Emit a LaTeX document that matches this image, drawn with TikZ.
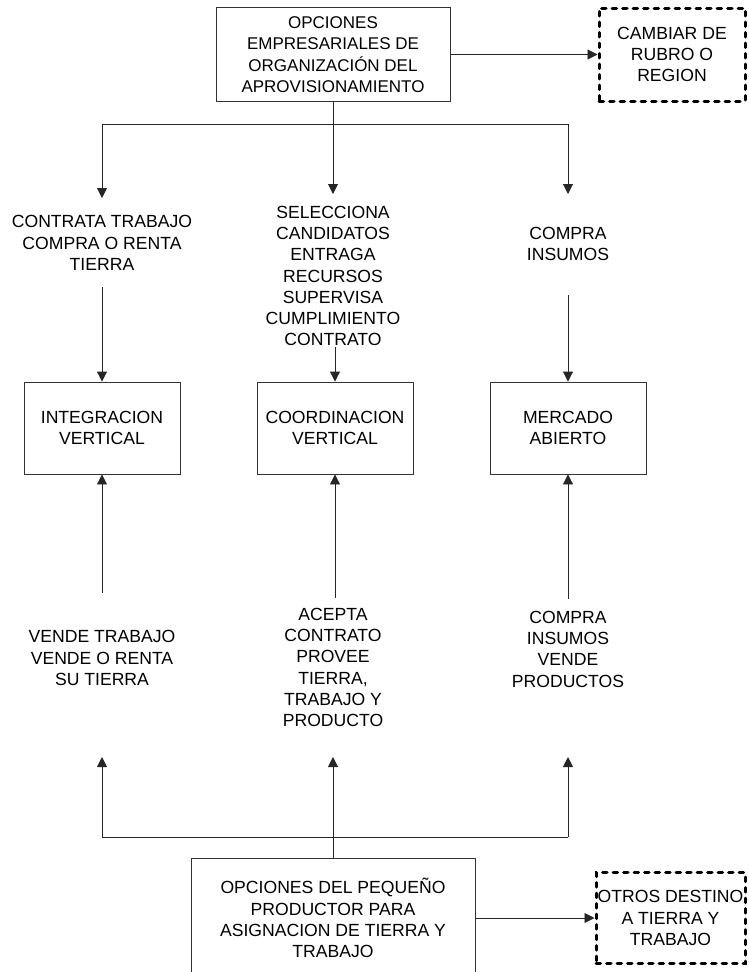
\documentclass[tikz,border=0pt]{standalone}
\usepackage{fontspec}
\setmainfont{Liberation Sans}
\usetikzlibrary{arrows.meta}
\begin{document}
\begin{tikzpicture}[x=1pt, y=-1pt,
  txt/.style={align=center, inner sep=0pt, font=\fontsize{17.6}{21.3}\selectfont},
  box/.style={txt, draw=black!80, line width=0.9pt},
  dbox/.style={txt, draw=black, line width=3pt, line cap=round,
    dash pattern=on 4.5pt off 6pt},
  link/.style={draw=black!85, line width=0.9pt},
  arr/.style={link, -{Triangle[length=10pt, width=10pt]}}]
\useasboundingbox (0,0) rectangle (748,972);

% firm-side options
\node[box, minimum width=234pt, minimum height=94pt,
  font=\fontsize{17}{21.3}\selectfont] (top) at (333,54.5)
  {OPCIONES\\EMPRESARIALES DE\\ORGANIZACIÓN DEL\\APROVISIONAMIENTO};
\node[dbox, minimum width=146pt, minimum height=93pt] (alt1) at (672,54.5)
  {CAMBIAR DE\\RUBRO O\\REGION};
\draw[arr] (top) -- (alt1);

% branching to the three strategies
\coordinate (brM) at (333,124);
\coordinate (brL) at (102,124);
\coordinate (brR) at (568,124);
\coordinate (inL) at (102,198);
\coordinate (inM) at (333,194);
\coordinate (inR) at (568,194);
\draw[link] (top.south) -- (brM);
\draw[link] (brL) -- (brR);
\draw[arr] (brL) -- (inL);
\draw[arr] (brM) -- (inM);
\draw[arr] (brR) -- (inR);

\node[txt] (t1) at (102,243) {CONTRATA TRABAJO\\COMPRA O RENTA\\TIERRA};
\node[txt] (t2) at (333,276) {SELECCIONA\\CANDIDATOS\\ENTRAGA\\RECURSOS\\SUPERVISA\\CUMPLIMIENTO\\CONTRATO};
\node[txt] (t3) at (568,244) {COMPRA\\INSUMOS};

% governance structures
\node[box, minimum width=156pt, minimum height=92pt] (int) at (102,428)
  {INTEGRACION\\VERTICAL};
\node[box, minimum width=156pt, minimum height=92pt] (coo) at (335,428)
  {COORDINACION\\VERTICAL};
\node[box, minimum width=156pt, minimum height=92pt] (mer) at (568,428)
  {MERCADO\\ABIERTO};

\coordinate (sL) at (102,287);
\coordinate (sM) at (335,347);
\coordinate (sR) at (568,295);
\draw[arr] (sL) -- (int.north);
\draw[arr] (sM) -- (coo.north);
\draw[arr] (sR) -- (mer.north);

\coordinate (uL) at (102,593);
\coordinate (uM) at (335,598);
\coordinate (uR) at (568,599);
\draw[arr] (uL) -- (int.south);
\draw[arr] (uM) -- (coo.south);
\draw[arr] (uR) -- (mer.south);

% small-producer side
\node[txt] (b1) at (102,658) {VENDE TRABAJO\\VENDE O RENTA\\SU TIERRA};
\node[txt] (b2) at (333,667.5) {ACEPTA\\CONTRATO\\PROVEE\\TIERRA,\\TRABAJO Y\\PRODUCTO};
\node[txt] (b3) at (568,649) {COMPRA\\INSUMOS\\VENDE\\PRODUCTOS};

\coordinate (vL) at (102,757);
\coordinate (vM) at (333,757);
\coordinate (vR) at (568,757);
\coordinate (hL) at (102,837);
\coordinate (hR) at (568,837);

\node[box, minimum width=284pt, minimum height=120pt] (bot) at (333,918)
  {OPCIONES DEL PEQUEÑO\\PRODUCTOR PARA\\ASIGNACION DE TIERRA Y\\TRABAJO};
\node[dbox, minimum width=149pt, minimum height=91pt] (alt2) at (670.5,918)
  {OTROS DESTINO\\A TIERRA Y\\TRABAJO};

\draw[link] (hL) -- (hR);
\draw[arr] (hL) -- (vL);
\draw[arr] (hR) -- (vR);
\draw[arr] (bot.north) -- (vM);
\draw[arr] (bot) -- (alt2);
\end{tikzpicture}
\end{document}
